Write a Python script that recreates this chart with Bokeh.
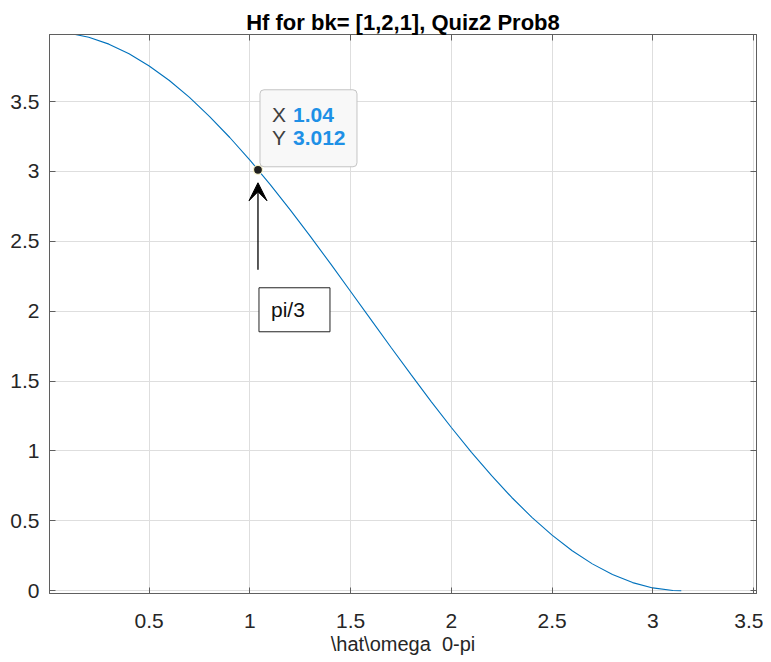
from bokeh.plotting import figure
from bokeh.models import (Range1d, LinearAxis, FixedTicker, Label, BoxAnnotation,
                          Arrow, VeeHead)
from bokeh.embed import file_html
from bokeh.resources import INLINE

# ---- data ----
omega = [0.0, 0.1, 0.2, 0.3, 0.4, 0.5, 0.6, 0.7, 0.8, 0.9, 1.0, 1.1, 1.2, 1.3,
         1.4, 1.5, 1.6, 1.7, 1.8, 1.9, 2.0, 2.1, 2.2, 2.3, 2.4, 2.5, 2.6, 2.7,
         2.8, 2.9, 3.0, 3.1, 3.1416]
hf = [4.000, 3.990, 3.960, 3.911, 3.842, 3.755, 3.651, 3.530, 3.393, 3.243,
      3.081, 2.907, 2.725, 2.535, 2.340, 2.141, 1.942, 1.742, 1.546, 1.353,
      1.168, 0.990, 0.823, 0.667, 0.525, 0.398, 0.286, 0.192, 0.116, 0.058,
      0.020, 0.002, 0.000]
x_ticks = [0.5, 1, 1.5, 2, 2.5, 3, 3.5]
y_ticks = [0, 0.5, 1, 1.5, 2, 2.5, 3, 3.5]
tip_x = 1.04
tip_y = 3.012
tip_x_text = "1.04"
tip_y_text = "3.012"
note_text = "pi/3"
title_text = "Hf for bk= [1,2,1], Quiz2 Prob8"
xlabel_text = "\\hat\\omega\u00a0 0-pi"

X0, X1 = 0.005, 3.515
Y0, Y1 = -0.02, 3.98
FW, FH = 707, 559
sx = FW / (X1 - X0)
sy = FH / (Y1 - Y0)

FONT = "Liberation Sans"
AX = "#5f5f5f"
TXT = "#262626"

p = figure(width=763, height=654, output_backend="svg", toolbar_location=None,
           x_range=Range1d(X0, X1), y_range=Range1d(Y0, Y1),
           frame_width=FW, frame_height=FH,
           min_border_left=49, min_border_right=7, min_border_top=34,
           min_border_bottom=61, title=title_text)
p.title.align = "center"
p.title.text_font = FONT
p.title.text_font_size = "22px"
p.title.text_font_style = "bold"
p.title.text_color = "#000000"
p.title.standoff = 0

p.background_fill_color = "white"
p.border_fill_color = "white"
p.outline_line_color = AX
p.outline_line_width = 1

for ax, ticks in ((p.xaxis[0], x_ticks), (p.yaxis[0], y_ticks)):
    ax.ticker = FixedTicker(ticks=ticks)
    ax.major_tick_in = 6
    ax.major_tick_out = 0
    ax.minor_tick_in = 0
    ax.minor_tick_out = 0
    ax.axis_line_color = AX
    ax.major_tick_line_color = AX
    ax.major_label_text_font = FONT
    ax.major_label_text_font_size = "21px"
    ax.major_label_text_color = TXT
p.xaxis[0].major_label_standoff = 20
p.yaxis[0].major_label_standoff = 10
p.xaxis[0].axis_label = xlabel_text
p.xaxis[0].axis_label_text_font = FONT
p.xaxis[0].axis_label_text_font_size = "20px"
p.xaxis[0].axis_label_text_font_style = "normal"
p.xaxis[0].axis_label_text_color = TXT
p.xaxis[0].axis_label_standoff = 2

top = LinearAxis(ticker=FixedTicker(ticks=x_ticks), major_tick_in=6, major_tick_out=0,
                 minor_tick_in=0, minor_tick_out=0, axis_line_color=AX,
                 major_tick_line_color=AX, major_label_text_font_size="0px",
                 major_label_text_color=None, major_label_standoff=0)
right = LinearAxis(ticker=FixedTicker(ticks=y_ticks), major_tick_in=6, major_tick_out=0,
                   minor_tick_in=0, minor_tick_out=0, axis_line_color=AX,
                   major_tick_line_color=AX, major_label_text_font_size="0px",
                   major_label_text_color=None, major_label_standoff=0)
p.add_layout(top, "above")
p.add_layout(right, "right")

for g in p.grid:
    g.grid_line_color = "#dedede"
    g.grid_line_width = 1
p.xgrid.ticker = FixedTicker(ticks=x_ticks)
p.ygrid.ticker = FixedTicker(ticks=y_ticks)

# curve
p.line(omega, hf, line_color="#0072BD", line_width=1.1)

# datatip box
p.add_layout(BoxAnnotation(left=tip_x + 2 / sx, right=tip_x + 99 / sx,
                           bottom=tip_y + 3 / sy, top=tip_y + 80 / sy,
                           fill_color="#f8f8f8", fill_alpha=1.0,
                           line_color="#c4c4c4", line_alpha=1.0, line_width=1,
                           border_radius=4))
for dy, key, val in ((55, "X", tip_x_text), (32, "Y", tip_y_text)):
    p.add_layout(Label(x=tip_x, y=tip_y, x_offset=14, y_offset=dy, text=key,
                       text_font=FONT, text_font_size="21px", text_color="#404040",
                       text_baseline="middle"))
    p.add_layout(Label(x=tip_x, y=tip_y, x_offset=35, y_offset=dy, text=val,
                       text_font=FONT, text_font_size="21px", text_color="#1e90e6",
                       text_font_style="bold", text_baseline="middle"))

# arrow
p.add_layout(Arrow(x_start=tip_x, y_start=tip_y - 100 / sy, x_end=tip_x, y_end=tip_y - 13 / sy,
                   line_color="black", line_width=1.3,
                   end=VeeHead(size=18, fill_color="black", line_color="black")))

# datatip marker
p.scatter([tip_x], [tip_y], size=9, fill_color="#1f1f1f", line_color="#f5f0c8", line_width=1.2)

# pi/3 text box
p.add_layout(BoxAnnotation(left=tip_x + 1 / sx, right=tip_x + 72 / sx,
                           bottom=tip_y - 162 / sy, top=tip_y - 118 / sy,
                           fill_color="white", fill_alpha=1.0,
                           line_color="#222222", line_alpha=1.0, line_width=1))
p.add_layout(Label(x=tip_x, y=tip_y, x_offset=13, y_offset=-140, text=note_text,
                   text_font=FONT, text_font_size="21px", text_color="#111111",
                   text_baseline="middle"))

open("out.html", "w").write(file_html(p, INLINE))
